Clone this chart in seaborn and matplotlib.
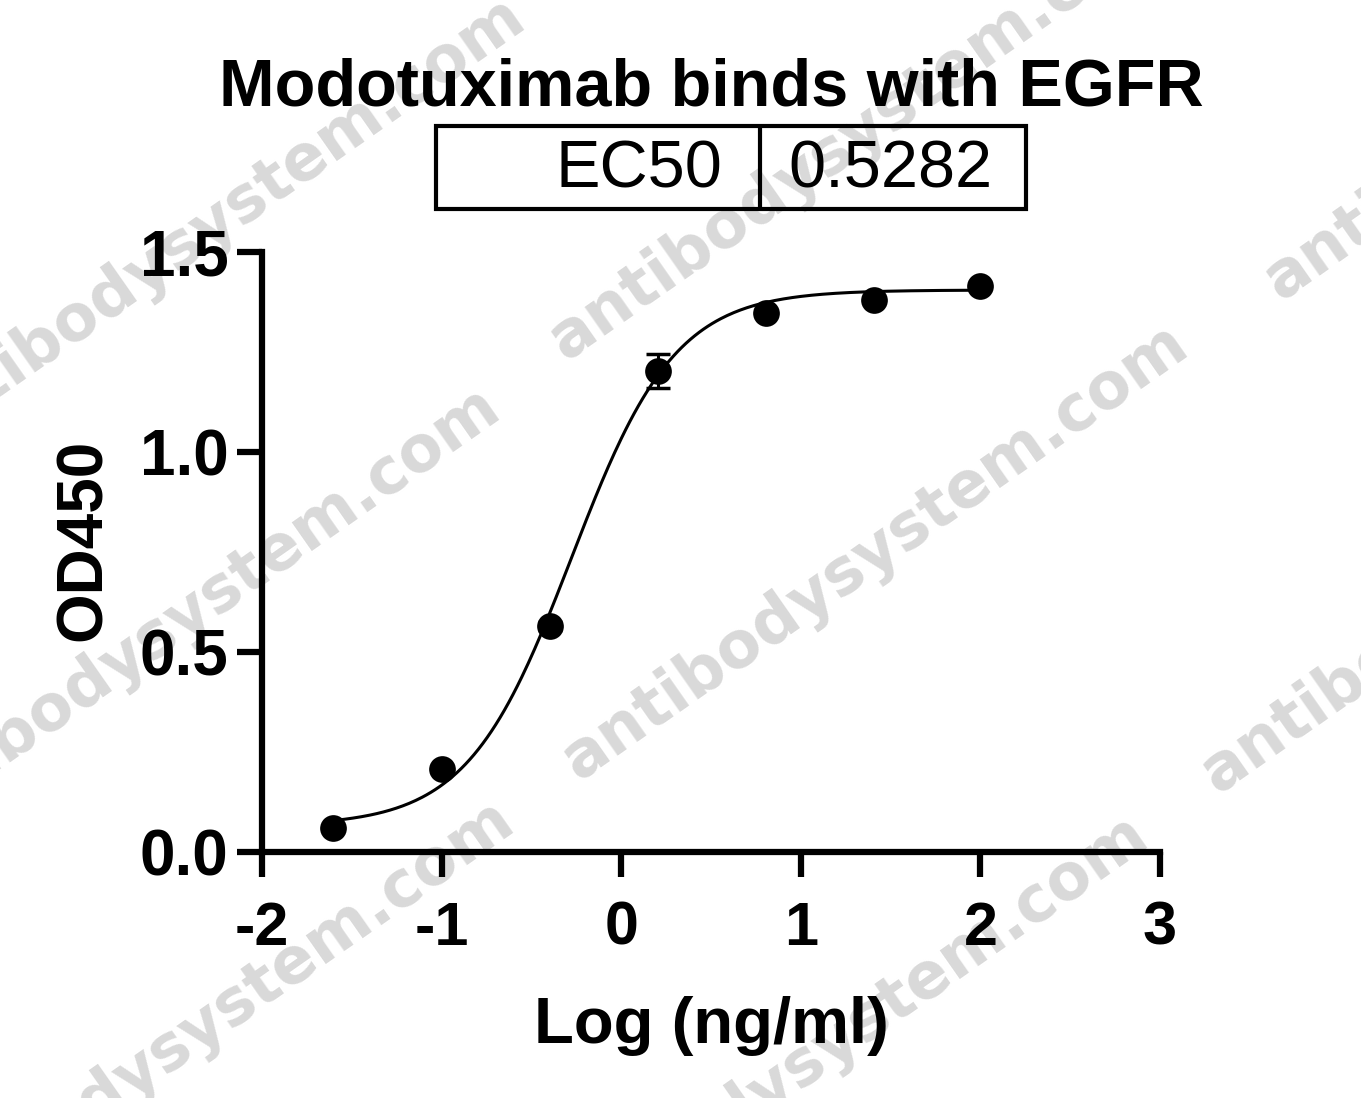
import numpy as np
import matplotlib
matplotlib.use("Agg")
import matplotlib.pyplot as plt
from matplotlib.patches import Rectangle
from matplotlib.lines import Line2D
import seaborn as sns
import pandas as pd

# measured points (log concentration, OD450, SD)
log_conc = [-1.602, -1.0, -0.398, 0.204, 0.806, 1.408, 2.0]
od450 = [0.06, 0.207, 0.565, 1.203, 1.348, 1.38, 1.415]
od_sd = [0.005, 0.008, 0.01, 0.043, 0.008, 0.006, 0.007]

# 4PL fit parameters
ec50 = 0.5282
bottom = 0.065
top = 1.405
hill = 1.5

x_ticks = [-2, -1, 0, 1, 2, 3]
x_ticklabels = ["-2", "-1", "0", "1", "2", "3"]
y_ticks = [0.0, 0.5, 1.0, 1.5]
y_ticklabels = ["0.0", "0.5", "1.0", "1.5"]

title = "Modotuximab binds with EGFR"
watermark = "antibodysystem.com"

sns.set_theme(style="ticks")
plt.rcParams["font.family"] = ["Liberation Sans", "DejaVu Sans"]
plt.rcParams["axes.unicode_minus"] = False

W, H = 1361, 1098
fig = plt.figure(figsize=(W / 100, H / 100), dpi=100, facecolor="white")
ax = fig.add_axes([262 / W, (H - 852) / H, 898 / W, 600 / H])
ax.set_facecolor("none")

# watermark text, tiled behind the plot
wm_starts = [(-85, 455), (-110, 845), (-96, 1258), (565, 362), (578, 782),
             (538, 1273), (1280, 302), (1217, 795)]
for px, py in wm_starts:
    fig.text(px / W, 1 - py / H, watermark, rotation=35, rotation_mode="anchor",
             ha="left", va="baseline", fontsize=46, fontweight="bold",
             family="DejaVu Sans", color="#d9d9d9", zorder=-1)

# fitted curve
curve_x = np.linspace(min(log_conc), max(log_conc), 300)
curve_y = bottom + (top - bottom) / (1 + 10 ** ((np.log10(ec50) - curve_x) * hill))
fit_df = pd.DataFrame({"x": curve_x, "y": curve_y})
sns.lineplot(data=fit_df, x="x", y="y", ax=ax, color="black", linewidth=2.2,
             estimator=None, sort=True, zorder=2)

pts = pd.DataFrame({"x": log_conc, "y": od450, "sd": od_sd})
ax.errorbar(pts["x"], pts["y"], yerr=pts["sd"], fmt="none", ecolor="black",
            elinewidth=2.2, capsize=8.5, capthick=2.5, zorder=3)
sns.scatterplot(data=pts, x="x", y="y", ax=ax, color="black", s=370,
                linewidth=0, zorder=4)

ax.set_xlim(-2, 3)
ax.set_ylim(0, 1.5)
ax.set_xticks(x_ticks)
ax.set_xticklabels(x_ticklabels)
ax.set_yticks(y_ticks)
ax.set_yticklabels(y_ticklabels)
for s in ["top", "right"]:
    ax.spines[s].set_visible(False)
for s in ["left", "bottom"]:
    ax.spines[s].set_linewidth(4.5)
    ax.spines[s].set_color("black")
    ax.spines[s].set_capstyle("projecting")
ax.tick_params(axis="both", length=18, width=4.5, color="black",
               labelcolor="black")
ax.tick_params(axis="x", pad=17, labelsize=44)
ax.tick_params(axis="y", pad=6, labelsize=46)
for lab in ax.get_xticklabels() + ax.get_yticklabels():
    lab.set_fontweight("bold")

ax.set_xlabel("Log (ng/ml)", fontsize=47, fontweight="bold", color="black", labelpad=28)
ax.set_ylabel("OD450", fontsize=46, fontweight="bold", color="black")
ax.yaxis.set_label_coords(-0.165, 0.52)

fig.text(711 / W, 1 - 105 / H, title, ha="center", va="baseline",
         fontsize=48, fontweight="bold", color="black")

# EC50 table box
x0, x1, xm = 436 / W, 1026 / W, 760 / W
y0, y1 = 1 - 209 / H, 1 - 126 / H
fig.add_artist(Rectangle((x0, y0), x1 - x0, y1 - y0, transform=fig.transFigure,
                         fill=False, edgecolor="black", linewidth=3))
fig.add_artist(Line2D([xm, xm], [y0, y1], transform=fig.transFigure,
                      color="black", linewidth=3))
fig.text(722 / W, 1 - 188 / H, "EC50", ha="right", va="baseline", fontsize=48, color="black")
fig.text(788 / W, 1 - 188 / H, f"{ec50:.4f}", ha="left", va="baseline", fontsize=48, color="black")

fig.savefig("out.png", dpi=100, facecolor="white")
